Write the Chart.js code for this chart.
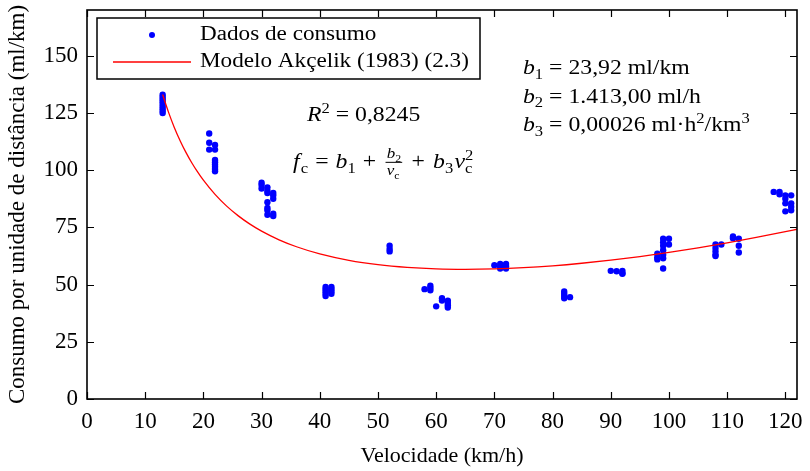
<!DOCTYPE html>
<html>
<head>
<meta charset="utf-8">
<script src="https://cdn.jsdelivr.net/npm/chart.js@4.4.1/dist/chart.umd.min.js"></script>
<style>
  html, body { margin: 0; padding: 0; background: #fff; }
  #wrap { width: 810px; height: 471px; }
</style>
</head>
<body>
<div id="wrap"><canvas id="grafico"></canvas></div>
<script>
const SERIF = '"Liberation Serif", "Times New Roman", serif';
const SX = 1.13; // largura extra das letras nas anotações

// medições de consumo: velocidade (km/h) e consumo (ml/km)
const velocidades = [
  13,13,13,13,13,13,13,13,13,
  21,21,21,
  22,22,22,22,22,22,22,22,
  30,30,30,
  31,31,31,31,31,31,31,
  32,32,32,32,32,
  41,41,41,41,41,
  42,42,42,42,
  52,52,52,
  58,
  59,59,59,
  60,
  61,61,
  62,62,62,62,
  70,
  71,71,71,
  72,72,72,
  82,82,82,82,
  83,
  90,
  91,
  92,92,92,
  98,98,98,
  99,99,99,99,99,99,99,
  100,100,
  108,108,108,108,108,
  109,
  111,111,
  112,112,112,
  118,
  119,119,
  120,120,120,120,
  121,121,121,121
];
const consumos = [
  133,132,131,130,129,128,127,126,125,
  116,112,109,
  111,109,104.5,103.5,102.5,101.5,100.5,99.5,
  94.5,93.5,92,
  92.5,91,90,86,83.5,82.5,80.5,
  90,89,87.5,81,80,
  49,48,47,46,45,
  49,48,47,46,
  67,65.5,64.5,
  48,
  49.5,48.5,47.5,
  40.5,
  44,43,
  43,42,41,40,
  58.5,
  59,58,57,
  59,58,57,
  47,46,45,44,
  44.5,
  56,
  55.8,
  56,55,54.7,
  63.5,62,61,
  70,68.5,67,65,63,61.5,57,
  70,67.5,
  67.5,66,64.5,63,62.5,
  67.5,
  71,70.3,
  70,67,64,
  90.5,
  90.5,89.5,
  89,87.5,85.5,82,
  89,85.5,84,82.5
];

// curva do modelo ajustado
const modeloV = [13,14,15,16,17,18,19,20,22,24,26,28,30,33,36,40,45,50,55,60,65,70,75,80,85,90,95,100,105,110,115,120,122];
const modeloF = [133.05,125.36,118.70,112.90,107.79,103.26,99.23,95.61,89.41,84.29,80.03,76.42,73.36,69.57,66.54,63.41,60.59,58.68,57.48,56.83,56.65,56.85,57.39,58.22,59.33,60.68,62.26,64.05,66.05,68.23,70.60,73.14,74.20];

const xTicks = [0,10,20,30,40,50,60,70,80,90,100,110,120];
const yTicks = [0,25,50,75,100,125,150];

const legendas = ['Dados de consumo', 'Modelo Akçelik (1983) (2.3)'];
const AZUL = '#0000ff';
const VERMELHO = '#ff0000';

// desenha uma sequência de trechos com itálico, índice e expoente
function drawRuns(ctx, x, y, runs, size) {
  runs.forEach(r => {
    const small = r.sub || r.sup;
    const fs = small ? size * 0.7 : size;
    ctx.font = (r.it ? 'italic ' : '') + fs + 'px ' + SERIF;
    const dy = r.sub ? size * 0.22 : (r.sup ? -size * 0.4 : 0);
    ctx.fillText(r.t, x, y + dy);
    let w = ctx.measureText(r.t).width;
    if (r.stack) {
      ctx.fillText(r.stack, x, y - size * 0.4);
      w = Math.max(w, ctx.measureText(r.stack).width);
    }
    x += w + (r.gap || 0);
  });
  return x;
}

// texto alargado na horizontal a partir de (x, y)
function stretched(ctx, x, y, fn) {
  ctx.save();
  ctx.translate(x, y);
  ctx.scale(SX, 1);
  fn();
  ctx.restore();
}

const molduraPlugin = {
  id: 'moldura',
  afterDraw(chart) {
    const {ctx, chartArea: a, scales} = chart;
    ctx.save();
    ctx.strokeStyle = '#000';
    // marcas internas nos quatro lados
    ctx.lineWidth = 1.2;
    ctx.beginPath();
    xTicks.forEach(v => {
      const px = Math.round(scales.x.getPixelForValue(v)) + 0.5;
      ctx.moveTo(px, a.bottom); ctx.lineTo(px, a.bottom - 7);
      ctx.moveTo(px, a.top); ctx.lineTo(px, a.top + 7);
    });
    yTicks.forEach(v => {
      const py = Math.round(scales.y.getPixelForValue(v)) + 0.5;
      ctx.moveTo(a.left, py); ctx.lineTo(a.left + 7, py);
      ctx.moveTo(a.right, py); ctx.lineTo(a.right - 7, py);
    });
    ctx.stroke();
    ctx.lineWidth = 1.6;
    ctx.strokeRect(a.left, a.top, a.right - a.left, a.bottom - a.top);

    // legenda
    const lx = a.left + 10, ly = a.top + 8;
    ctx.fillStyle = '#fff';
    ctx.fillRect(lx, ly, 383, 61);
    ctx.lineWidth = 1.5;
    ctx.strokeRect(lx, ly, 383, 61);
    ctx.fillStyle = AZUL;
    ctx.beginPath();
    ctx.arc(lx + 55, ly + 17, 3, 0, Math.PI * 2);
    ctx.fill();
    ctx.strokeStyle = VERMELHO;
    ctx.lineWidth = 1.3;
    ctx.beginPath();
    ctx.moveTo(lx + 16, ly + 44); ctx.lineTo(lx + 94, ly + 44);
    ctx.stroke();
    ctx.fillStyle = '#000';
    ctx.textBaseline = 'alphabetic';
    ctx.textAlign = 'left';
    stretched(ctx, lx + 103, ly + 21.5, () => drawRuns(ctx, 0, 0, [{t: legendas[0]}], 20.5));
    stretched(ctx, lx + 103, ly + 48.5, () => drawRuns(ctx, 0, 0, [{t: legendas[1]}], 20.5));

    // anotações do ajuste
    const fs = 21;
    stretched(ctx, 307, 121, () => drawRuns(ctx, 0, 0, [{t: 'R', it: true}, {t: '2', sup: true}, {t: ' = 0,8245'}], fs));

    stretched(ctx, 293, 168, () => {
      let x = drawRuns(ctx, 0, 0, [
        {t: 'f', it: true, gap: 1}, {t: 'c', sub: true, gap: 1}, {t: ' = ', gap: 1},
        {t: 'b', it: true}, {t: '1', sub: true, gap: 1}, {t: ' + ', gap: 2}
      ], fs);
      // fração b2 / vc
      const fy = -fs * 0.27;
      const nw = drawRuns(ctx, x + 2, fy - 4, [{t: 'b', it: true}, {t: '2', sub: true}], 15) - (x + 2);
      drawRuns(ctx, x + 2, fy + 13, [{t: 'v', it: true}, {t: 'c', sub: true}], 15);
      ctx.fillRect(x + 1, fy - 0.5, nw + 2, 1);
      x += nw + 6;
      drawRuns(ctx, x, 0, [
        {t: ' + ', gap: 2}, {t: 'b', it: true}, {t: '3', sub: true, gap: 1}, {t: 'v', it: true}, {t: 'c', sub: true, stack: '2'}
      ], fs);
    });

    stretched(ctx, 523, 74, () => drawRuns(ctx, 0, 0, [{t: 'b', it: true}, {t: '1', sub: true}, {t: ' = 23,92 ml/km'}], fs));
    stretched(ctx, 523, 102.5, () => drawRuns(ctx, 0, 0, [{t: 'b', it: true}, {t: '2', sub: true}, {t: ' = 1.413,00 ml/h'}], fs));
    stretched(ctx, 523, 131, () => drawRuns(ctx, 0, 0, [{t: 'b', it: true}, {t: '3', sub: true}, {t: ' = 0,00026 ml·h'}, {t: '2', sup: true}, {t: '/km'}, {t: '3', sup: true}], fs));
    ctx.restore();
  }
};

Chart.defaults.color = '#000';
Chart.defaults.font.family = SERIF;
Chart.defaults.font.size = 23;

new Chart(document.getElementById('grafico'), {
  type: 'scatter',
  data: {
    datasets: [
      {
        label: legendas[0],
        data: velocidades.map((v, i) => ({x: v, y: consumos[i]})),
        backgroundColor: AZUL,
        borderColor: AZUL,
        pointRadius: 3.2,
        pointBorderWidth: 0,
        order: 1
      },
      {
        label: legendas[1],
        data: modeloV.map((v, i) => ({x: v, y: modeloF[i]})),
        showLine: true,
        borderColor: VERMELHO,
        borderWidth: 1.3,
        pointRadius: 0,
        cubicInterpolationMode: 'monotone',
        order: 0
      }
    ]
  },
  options: {
    responsive: true,
    maintainAspectRatio: false,
    animation: false,
    layout: { padding: { top: 10, right: 13, left: 0, bottom: 0 } },
    plugins: { legend: { display: false }, tooltip: { enabled: false } },
    scales: {
      x: {
        type: 'linear',
        min: 0,
        max: 122,
        grid: { display: false, drawTicks: false },
        border: { display: false },
        ticks: { padding: 9, maxRotation: 0, autoSkip: false },
        afterBuildTicks: s => { s.ticks = xTicks.map(v => ({value: v})); },
        afterFit: s => { s.height = 72; s.paddingLeft = 0; s.paddingRight = 0; },
        title: { display: true, text: 'Velocidade (km/h)', font: { size: 22 }, padding: { top: 0, bottom: 2 } }
      },
      y: {
        type: 'linear',
        min: 0,
        max: 170,
        grid: { display: false, drawTicks: false },
        border: { display: false },
        ticks: { padding: 9, autoSkip: false },
        afterBuildTicks: s => { s.ticks = yTicks.map(v => ({value: v})); },
        afterFit: s => { s.width = 87; s.paddingTop = 0; s.paddingBottom = 0; },
        title: { display: true, text: 'Consumo por unidade de distância (ml/km)', font: { size: 23 }, padding: { top: 4, bottom: 0 } }
      }
    }
  },
  plugins: [molduraPlugin]
});
</script>
</body>
</html>
